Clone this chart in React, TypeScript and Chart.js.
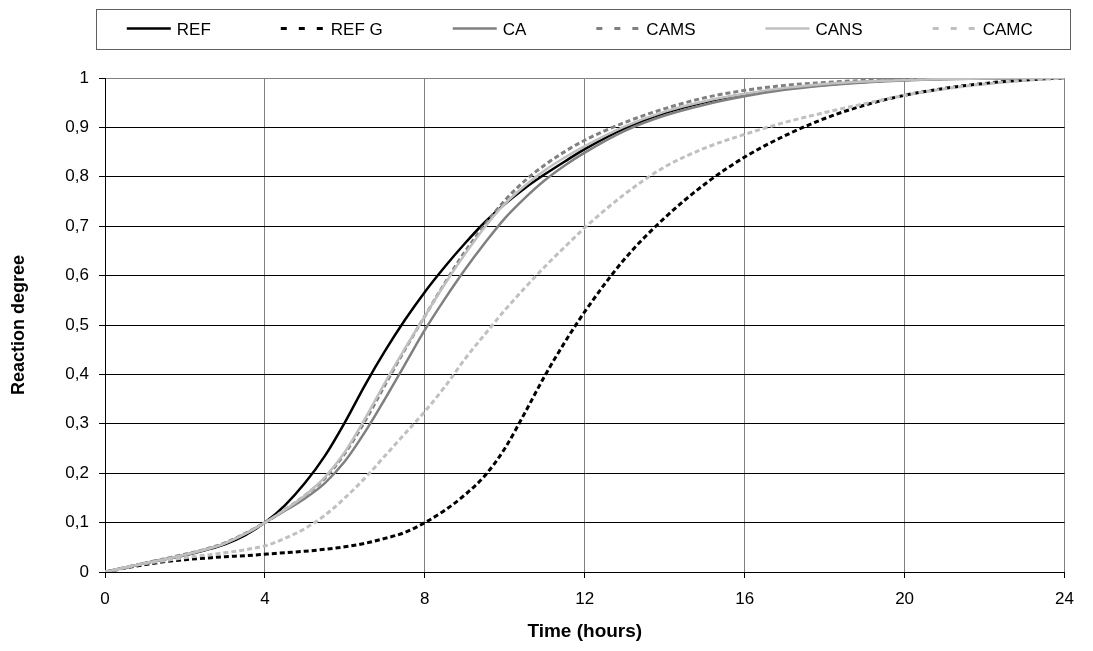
import React, { useEffect, useRef } from 'react';
import { Chart, registerables } from 'chart.js';

Chart.register(...registerables);

// ---- data ----
const times = [0, 0.5, 1, 1.5, 2, 2.5, 3, 3.5, 4, 4.5, 5, 5.5, 6, 6.5, 7, 7.5, 8, 8.5, 9, 9.5, 10, 10.5, 11, 11.5, 12, 13, 14, 15, 16, 17, 18, 19, 20, 21, 22, 23, 24];

const refValues = [0, 0.009, 0.018, 0.026, 0.034, 0.044, 0.056, 0.074, 0.10, 0.135, 0.18, 0.235, 0.303, 0.378, 0.447, 0.51, 0.567, 0.618, 0.665, 0.708, 0.745, 0.777, 0.805, 0.831, 0.856, 0.898, 0.929, 0.951, 0.967, 0.978, 0.986, 0.992, 0.996, 0.998, 0.999, 1, 1];
const refGValues = [0, 0.008, 0.015, 0.021, 0.025, 0.028, 0.031, 0.033, 0.036, 0.039, 0.042, 0.046, 0.051, 0.058, 0.068, 0.08, 0.10, 0.125, 0.156, 0.195, 0.25, 0.322, 0.397, 0.465, 0.527, 0.634, 0.717, 0.785, 0.84, 0.883, 0.918, 0.945, 0.965, 0.979, 0.989, 0.996, 1];
const caValues = [0, 0.009, 0.018, 0.026, 0.035, 0.045, 0.058, 0.077, 0.10, 0.124, 0.149, 0.18, 0.224, 0.283, 0.35, 0.42, 0.49, 0.553, 0.612, 0.666, 0.716, 0.757, 0.793, 0.823, 0.849, 0.893, 0.924, 0.946, 0.963, 0.976, 0.985, 0.991, 0.995, 0.998, 0.999, 1, 1];
const camsValues = [0, 0.009, 0.018, 0.027, 0.036, 0.046, 0.059, 0.078, 0.10, 0.126, 0.155, 0.19, 0.24, 0.305, 0.378, 0.45, 0.518, 0.585, 0.648, 0.703, 0.752, 0.792, 0.824, 0.851, 0.874, 0.91, 0.938, 0.96, 0.975, 0.985, 0.991, 0.995, 0.997, 0.999, 1, 1, 1];
const cansValues = [0, 0.009, 0.018, 0.026, 0.035, 0.045, 0.058, 0.077, 0.10, 0.126, 0.155, 0.192, 0.243, 0.31, 0.383, 0.452, 0.518, 0.583, 0.643, 0.698, 0.745, 0.782, 0.813, 0.839, 0.862, 0.902, 0.932, 0.953, 0.968, 0.98, 0.988, 0.993, 0.996, 0.998, 0.999, 1, 1];
const camcValues = [0, 0.009, 0.017, 0.023, 0.029, 0.034, 0.039, 0.045, 0.053, 0.068, 0.088, 0.115, 0.15, 0.19, 0.235, 0.28, 0.325, 0.375, 0.431, 0.481, 0.53, 0.575, 0.618, 0.658, 0.697, 0.765, 0.82, 0.858, 0.886, 0.91, 0.93, 0.948, 0.965, 0.978, 0.988, 0.995, 1];

const seriesNames = ['REF', 'REF G', 'CA', 'CAMS', 'CANS', 'CAMC'];
const xTickLabels = ['0', '4', '8', '12', '16', '20', '24'];
const yTickLabels = ['0', '0,1', '0,2', '0,3', '0,4', '0,5', '0,6', '0,7', '0,8', '0,9', '1'];
const xTitle = 'Time (hours)';
const yTitle = 'Reaction degree';

// ---- styles ----
const FONT = '"Liberation Sans", Arial, sans-serif';
const seriesStyles = [
  { color: '#000000', width: 2.5, dashed: false },
  { color: '#000000', width: 3, dashed: true },
  { color: '#808080', width: 2.5, dashed: false },
  { color: '#808080', width: 3, dashed: true },
  { color: '#c0c0c0', width: 2.5, dashed: false },
  { color: '#c0c0c0', width: 3, dashed: true },
];
const allValues = [refValues, refGValues, caValues, camsValues, cansValues, camcValues];

const boxLegendPlugin = {
  id: 'boxLegend',
  afterDraw(chart: any) {
    const ctx = chart.ctx;
    const area = chart.chartArea;
    const left = area.left - 9;
    const right = area.right + 5;
    const top = 1;
    const bottom = 41;
    ctx.save();
    ctx.strokeStyle = '#606060';
    ctx.lineWidth = 1;
    ctx.setLineDash([]);
    ctx.strokeRect(Math.round(left) + 0.5, top + 0.5, Math.round(right - left), bottom - top);

    ctx.font = '17px ' + FONT;
    const lineLen = 44;
    const textOff = 50;
    const gap = 70;
    const widths = chart.data.datasets.map((d: any) => textOff + ctx.measureText(d.label).width);
    const total = widths.reduce((a: number, b: number) => a + b, 0) + gap * (widths.length - 1);
    let x = (left + right) / 2 - total / 2 - 3;
    const yLine = 20.5;
    const yText = 22;
    chart.data.datasets.forEach((d: any, i: number) => {
      ctx.beginPath();
      ctx.strokeStyle = d.borderColor;
      ctx.lineWidth = d.borderWidth;
      ctx.setLineDash(d.borderDash && d.borderDash.length ? [6, 12] : []);
      ctx.moveTo(x, yLine);
      ctx.lineTo(x + lineLen, yLine);
      ctx.stroke();
      ctx.setLineDash([]);
      ctx.fillStyle = '#000';
      ctx.textAlign = 'left';
      ctx.textBaseline = 'middle';
      ctx.fillText(d.label, x + textOff, yText);
      x += widths[i] + gap;
    });
    ctx.restore();
  },
};

export default function App() {
  const canvasRef = useRef<HTMLCanvasElement | null>(null);

  useEffect(() => {
    if (!canvasRef.current) return;
    const datasets = seriesNames.map((name, i) => ({
      label: name,
      data: times.map((t, j) => ({ x: t, y: allValues[i][j] })),
      borderColor: seriesStyles[i].color,
      backgroundColor: seriesStyles[i].color,
      borderWidth: seriesStyles[i].width,
      borderDash: seriesStyles[i].dashed ? [5, 3] : [],
      pointRadius: 0,
      fill: false,
      cubicInterpolationMode: 'monotone' as const,
      order: seriesNames.length - i,
    }));

    const chart = new Chart(canvasRef.current, {
      type: 'line',
      data: { datasets },
      plugins: [boxLegendPlugin],
      options: {
        animation: false,
        responsive: false,
        layout: { padding: { top: 70, right: 18, left: 0, bottom: 0 } },
        plugins: {
          legend: { display: false },
          tooltip: { enabled: false },
        },
        scales: {
          x: {
            type: 'linear',
            min: 0,
            max: 24,
            afterFit: (s: any) => { s.height = 71; },
            ticks: {
              stepSize: 4,
              color: '#000',
              padding: 11,
              maxRotation: 0,
              font: { family: FONT, size: 17 },
              callback: (_v: any, i: number) => xTickLabels[i],
            },
            grid: { color: '#808080', lineWidth: 1, tickLength: 6, tickColor: '#000' },
            border: { color: '#000', width: 1 },
            title: {
              display: true,
              text: xTitle,
              color: '#000',
              padding: { top: 0, bottom: 0 },
              font: { family: FONT, size: 19, weight: 'bold' },
            },
          },
          y: {
            type: 'linear',
            min: 0,
            max: 1,
            afterFit: (s: any) => { s.width = 97; },
            ticks: {
              stepSize: 0.1,
              color: '#000',
              padding: 10,
              font: { family: FONT, size: 17 },
              callback: (_v: any, i: number) => yTickLabels[i],
            },
            grid: {
              color: (c: any) => (c.tick && c.tick.value > 0.999 ? '#808080' : '#000000'),
              lineWidth: 1,
              tickLength: 6,
              tickColor: '#000',
            },
            border: { color: '#000', width: 1 },
            title: {
              display: true,
              text: yTitle,
              color: '#000',
              padding: { top: 0, bottom: 0 },
              font: { family: FONT, size: 18, weight: 'bold' },
            },
          },
        },
      },
    });
    return () => chart.destroy();
  }, []);

  return (
    <div style={{ width: 1077, height: 635 }}>
      <canvas ref={canvasRef} width={1077} height={635} style={{ display: 'block' }} />
    </div>
  );
}
